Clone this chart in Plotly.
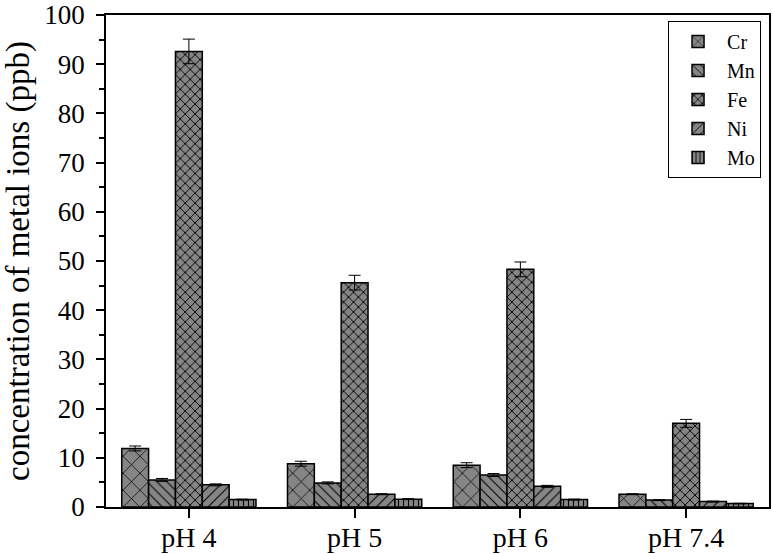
import plotly.graph_objects as go

categories = ["pH 4", "pH 5", "pH 6", "pH 7.4"]
metals = ["Cr", "Mn", "Fe", "Ni", "Mo"]
values = {
    "Cr": [11.9, 8.8, 8.5, 2.6],
    "Mn": [5.5, 4.9, 6.5, 1.4],
    "Fe": [92.6, 45.6, 48.3, 17.0],
    "Ni": [4.5, 2.6, 4.2, 1.1],
    "Mo": [1.5, 1.6, 1.5, 0.7],
}
errors = {
    "Cr": [0.5, 0.5, 0.5, 0.1],
    "Mn": [0.3, 0.2, 0.3, 0.1],
    "Fe": [2.5, 1.5, 1.5, 0.8],
    "Ni": [0.2, 0.1, 0.2, 0.1],
    "Mo": [0.1, 0.1, 0.1, 0.05],
}
patterns = {
    "Cr": dict(shape="x", size=12, solidity=0.12),
    "Mn": dict(shape="\\", size=7, solidity=0.15),
    "Fe": dict(shape="x", size=7, solidity=0.25),
    "Ni": dict(shape="/", size=7, solidity=0.15),
    "Mo": dict(shape="|", size=5, solidity=0.22),
}

fig = go.Figure()
for m in metals:
    p = patterns[m]
    fig.add_trace(go.Bar(
        name=m, x=categories, y=values[m],
        error_y=dict(type="data", array=errors[m], color="black", thickness=1, width=6),
        marker=dict(
            color="#858585",
            line=dict(color="black", width=1.5),
            pattern=dict(shape=p["shape"], size=p["size"], solidity=p["solidity"],
                         fgcolor="black", bgcolor="#858585", fillmode="replace"),
        ),
    ))

family = "Liberation Serif, Times New Roman, serif"
fig.update_layout(
    barmode="group", bargap=0.19, bargroupgap=0,
    width=772, height=554,
    margin=dict(l=106, r=3, t=15, b=47, autoexpand=False),
    paper_bgcolor="white", plot_bgcolor="white",
    font=dict(family=family, size=21, color="black"),
    showlegend=True,
    legend=dict(x=0.988, y=0.988, xanchor="right", yanchor="top",
                bordercolor="black", borderwidth=1, bgcolor="white",
                font=dict(family=family, size=20, color="black"),
                itemwidth=48, tracegroupgap=0),
)
fig.update_xaxes(
    range=[-0.5, 3.5], showline=True, linecolor="black", linewidth=1.5, mirror=True,
    ticks="outside", ticklen=9, tickwidth=1.5, tickcolor="black",
    minor=dict(ticks="outside", ticklen=5, tickwidth=1.5, tickcolor="black"),
    showgrid=False, tickfont=dict(family=family, size=28, color="black"),
    automargin=False, ticklabelstandoff=-4, ticklabeloverflow="allow",
)
fig.update_yaxes(
    range=[0, 100], dtick=10, showline=True, linecolor="black", linewidth=1.5, mirror=True,
    ticks="outside", ticklen=8, tickwidth=1.5, tickcolor="black",
    minor=dict(dtick=5, ticks="outside", ticklen=5, tickwidth=1.5, tickcolor="black"),
    showgrid=False, zeroline=False, tickfont=dict(family=family, size=27, color="black"),
    automargin=False, ticklabelstandoff=6, ticklabeloverflow="allow",
    title=dict(text="concentration of metal ions (ppb)",
               font=dict(family=family, size=33, color="black"), standoff=14),
)

fig.write_html("out.html", config={"displayModeBar": False},
               post_script="document.body.style.margin='0';")
